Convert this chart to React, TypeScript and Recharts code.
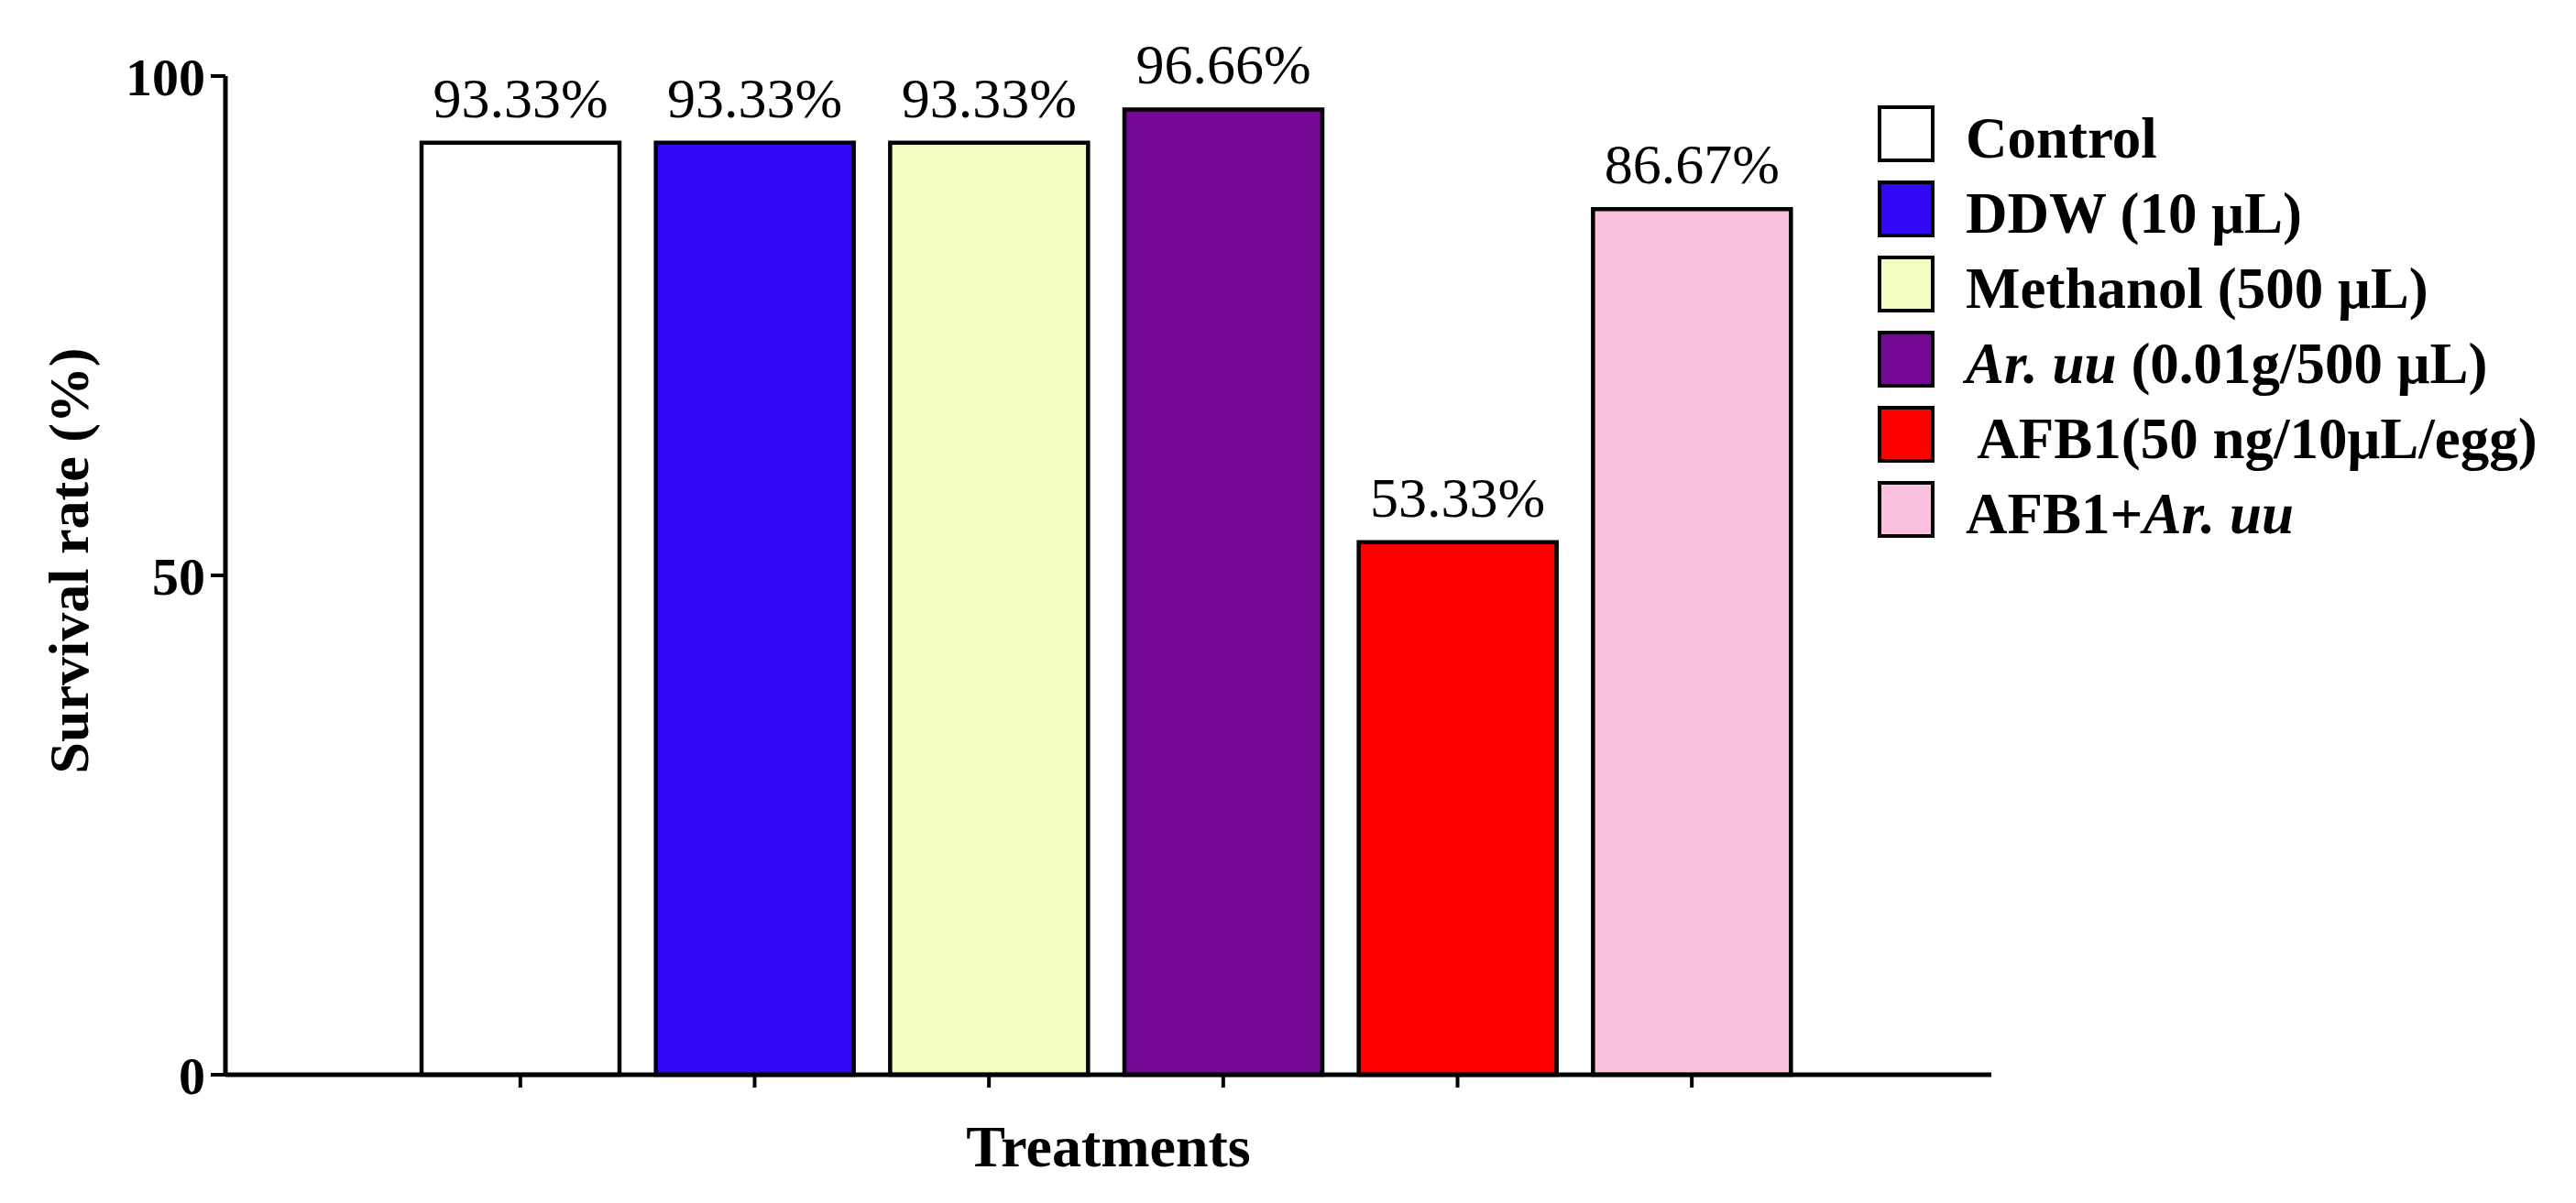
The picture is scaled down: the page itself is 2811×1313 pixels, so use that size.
import { BarChart, Bar, XAxis, YAxis, Cell, LabelList, Legend } from "recharts";

const treatments = [
    'Control',
    'DDW (10 μL)',
    'Methanol (500 μL)',
    'Ar. uu (0.01g/500 μL)',
    ' AFB1(50 ng/10μL/egg)',
    'AFB1+Ar. uu'
];
const survival = [93.33, 93.33, 93.33, 96.66, 53.33, 86.67];
const colors = ['#ffffff', '#3309f5', '#f2fbc0', '#750894', '#ff0000', '#fbc0de'];
const yTicks = [0, 50, 100];

const data = treatments.map((name, i) => ({ name, value: survival[i] }));

const serif = "'Liberation Serif', 'Times New Roman', serif";

// italicise the species name inside legend labels
function richText(t: string) {
    const parts = t.split(/(Ar\. uu)/);
    return parts.filter(p => p !== '').map((p, i) =>
        p === 'Ar. uu'
            ? <tspan key={i} fontStyle="italic">{p}</tspan>
            : <tspan key={i}>{p}</tspan>
    );
}

const renderLegend = () => (
    <svg width={780} height={500} style={{ display: 'block' }}>
        {treatments.map((t, i) => (
            <g key={t}>
                <rect x={2} y={2 + i * 82} width={58} height={58} fill={colors[i]} stroke="#000" strokeWidth={4} />
                <text x={96} y={57 + i * 82} fontFamily={serif} fontSize={63} fontWeight="bold" fill="#000"
                    style={{ whiteSpace: 'pre' }}>
                    {richText(t)}
                </text>
            </g>
        ))}
    </svg>
);

const YLabel = (props: any) => {
    const { viewBox } = props;
    const cy = viewBox.y + viewBox.height / 2 - 16;
    return (
        <text x={88} y={cy} transform={`rotate(-90, 88, ${cy})`} textAnchor="middle"
            fontFamily={serif} fontSize={62} fontWeight="bold" fill="#000">
            Survival rate (%)
        </text>
    );
};

const XLabel = (props: any) => {
    const { viewBox } = props;
    return (
        <text x={viewBox.x + viewBox.width / 2} y={1265} textAnchor="middle"
            fontFamily={serif} fontSize={64} fontWeight="bold" fill="#000">
            Treatments
        </text>
    );
};

export default function App() {
    return (
        <BarChart width={2795} height={1297} data={data}
            margin={{ top: 75, right: 630, bottom: 102, left: 0 }}>
            <XAxis
                dataKey="name"
                height={30}
                padding={{ left: 194, right: 199 }}
                tick={() => <g />}
                tickSize={14}
                axisLine={{ stroke: '#000', strokeWidth: 5 }}
                tickLine={{ stroke: '#000', strokeWidth: 4 }}
                label={<XLabel />}
            />
            <YAxis
                width={238}
                domain={[0, 100]}
                ticks={yTicks}
                tickSize={16}
                tickMargin={6}
                axisLine={{ stroke: '#000', strokeWidth: 5 }}
                tickLine={{ stroke: '#000', strokeWidth: 4 }}
                tick={{ fill: '#000', fontSize: 58, fontWeight: 'bold', fontFamily: serif }}
                label={<YLabel />}
            />
            <Legend
                layout="horizontal"
                verticalAlign="middle"
                align="center"
                content={renderLegend}
                wrapperStyle={{ left: 2041, top: 107, width: 780, height: 500 }}
            />
            <Bar dataKey="value" barSize={216} stroke="#000" strokeWidth={4.5} isAnimationActive={false}>
                {data.map((d, i) => (
                    <Cell key={d.name} fill={colors[i]} />
                ))}
                <LabelList
                    dataKey="value"
                    position="top"
                    offset={28}
                    formatter={(v: any) => `${Number(v).toFixed(2)}%`}
                    style={{ fill: '#000', fontSize: 62, fontFamily: serif }}
                />
            </Bar>
        </BarChart>
    );
}
